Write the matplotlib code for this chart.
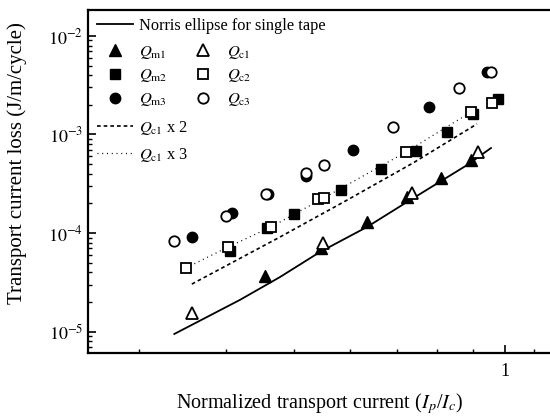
import matplotlib
matplotlib.use('Agg')
import matplotlib.pyplot as plt
from matplotlib.ticker import FixedLocator, NullFormatter, FixedFormatter

plt.rcParams['font.family'] = ['Liberation Serif', 'DejaVu Serif']
plt.rcParams['mathtext.fontset'] = 'stix'

# ---- data ----
x_qm1 = [0.454, 0.546, 0.635, 0.724, 0.810, 0.894]
y_qm1 = [3.66e-5, 7.05e-5, 1.29e-4, 2.30e-4, 3.62e-4, 5.45e-4]
x_qc1 = [0.357, 0.550, 0.736, 0.915]
y_qc1 = [1.54e-5, 7.91e-5, 2.55e-4, 6.70e-4]

x_qm2 = [0.405, 0.457, 0.500, 0.583, 0.665, 0.746, 0.826, 0.900, 0.977]
y_qm2 = [6.6e-5, 1.12e-4, 1.56e-4, 2.73e-4, 4.46e-4, 6.80e-4, 1.06e-3, 1.61e-3, 2.29e-3]
x_qc2 = [0.350, 0.402, 0.463, 0.541, 0.551, 0.722, 0.894, 0.958]
y_qc2 = [4.41e-5, 7.2e-5, 1.15e-4, 2.21e-4, 2.27e-4, 6.64e-4, 1.69e-3, 2.09e-3]

x_qm3 = [0.357, 0.407, 0.459, 0.520, 0.607, 0.778, 0.943]
y_qm3 = [9.1e-5, 1.60e-4, 2.49e-4, 3.79e-4, 6.96e-4, 1.90e-3, 4.31e-3]
x_qc3 = [0.337, 0.400, 0.456, 0.520, 0.551, 0.692, 0.860, 0.955]
y_qc3 = [8.29e-5, 1.49e-4, 2.49e-4, 4.06e-4, 4.90e-4, 1.19e-3, 2.96e-3, 4.31e-3]

x_norris = [0.337, 0.418, 0.477, 0.544, 0.635, 0.732, 0.883, 0.955]
y_norris = [9.44e-6, 2.09e-5, 3.57e-5, 6.41e-5, 1.15e-4, 2.16e-4, 4.90e-4, 7.29e-4]

x_x2 = [0.357, 0.477, 0.595, 0.739, 0.912]
y_x2 = [3.03e-5, 9.1e-5, 2.16e-4, 5.14e-4, 1.28e-3]

x_x3 = [0.350, 0.402, 0.463, 0.551, 0.722, 0.894]
y_x3 = [4.41e-5, 7.2e-5, 1.15e-4, 2.27e-4, 6.64e-4, 1.69e-3]

x_major = [1.0]
x_minor = [0.3, 0.4, 0.5, 0.6, 0.7, 0.8, 0.9, 1.1]
y_major = [1e-5, 1e-4, 1e-3, 1e-2]
y_labels = [r'$10^{-5}$', r'$10^{-4}$', r'$10^{-3}$', r'$10^{-2}$']

labels = {
    'norris': 'Norris ellipse for single tape',
    'qm1': r'$Q_{\mathrm{m1}}$', 'qc1': r'$Q_{\mathrm{c1}}$',
    'qm2': r'$Q_{\mathrm{m2}}$', 'qc2': r'$Q_{\mathrm{c2}}$',
    'qm3': r'$Q_{\mathrm{m3}}$', 'qc3': r'$Q_{\mathrm{c3}}$',
    'x2': r'$Q_{\mathrm{c1}}$ x 2', 'x3': r'$Q_{\mathrm{c1}}$ x 3',
}

fig = plt.figure(figsize=(5.5, 4.18), dpi=100)
ax = fig.add_axes([88/550, 65/418, 462/550, 343/418])
ax.set_xscale('log')
ax.set_yscale('log')
ax.set_xlim(0.2537, 1.1595)
ax.set_ylim(6.05e-6, 1.836e-2)

k = 'black'
ln_n, = ax.plot(x_norris, y_norris, '-', color=k, lw=1.3)
ln_2, = ax.plot(x_x2, y_x2, color=k, lw=1.2, dashes=(2.2, 1.8))
ln_3, = ax.plot(x_x3, y_x3, color=k, lw=0.9, dashes=(0.8, 3.0))

mk = dict(linestyle='none', color=k, mec=k)
h_m1, = ax.plot(x_qm1, y_qm1, marker='^', ms=8, **mk)
h_m2, = ax.plot(x_qm2, y_qm2, marker='s', ms=6.5, **mk)
h_m3, = ax.plot(x_qm3, y_qm3, marker='o', ms=7.5, **mk)
op = dict(linestyle='none', mfc='white', mec=k, mew=1.3)
h_c1, = ax.plot(x_qc1, y_qc1, marker='^', ms=8, **op)
h_c2, = ax.plot(x_qc2, y_qc2, marker='s', ms=6.5, **op)
h_c3, = ax.plot(x_qc3, y_qc3, marker='o', ms=7.5, **op)

# ticks
ax.xaxis.set_major_locator(FixedLocator(x_major))
ax.xaxis.set_major_formatter(FixedFormatter(['1']))
ax.xaxis.set_minor_locator(FixedLocator(x_minor))
ax.xaxis.set_minor_formatter(NullFormatter())
ax.yaxis.set_major_locator(FixedLocator(y_major))
ax.yaxis.set_major_formatter(FixedFormatter(y_labels))
ax.tick_params(axis='both', which='major', direction='in', length=6, width=1.2,
               labelsize=13, top=False, right=False)
ax.tick_params(axis='both', which='minor', direction='in', length=3, width=1.0,
               top=False, right=False)
ax.tick_params(axis='x', which='major', pad=7)
for s in ['left', 'bottom', 'top']:
    ax.spines[s].set_linewidth(1.6)
ax.spines['right'].set_visible(False)

ax.set_xlabel(r'Normalized transport current ($I_p$/$I_c$)', fontsize=14.5)
ax.set_ylabel('Transport current loss (J/m/cycle)', fontsize=15)
ax.xaxis.set_label_coords(0.502, -0.112)
ax.yaxis.set_label_coords(-0.132, 0.554)

common = dict(frameon=False, fontsize=11.8, borderpad=0, borderaxespad=0,
              handlelength=2.2, handletextpad=0.37)
legA = ax.legend([ln_n], [labels['norris']], loc='upper left',
                 bbox_to_anchor=(0.02, 0.978), **common)
ax.add_artist(legA)
legB = ax.legend([h_m1, h_m2, h_m3, h_c1, h_c2, h_c3],
                 [labels['qm1'], labels['qm2'], labels['qm3'],
                  labels['qc1'], labels['qc2'], labels['qc3']],
                 ncol=2, loc='upper left', bbox_to_anchor=(0.02, 0.902),
                 columnspacing=1.05, labelspacing=0.42, **common)
ax.add_artist(legB)
legC = ax.legend([ln_2, ln_3], [labels['x2'], labels['x3']], loc='upper left',
                 bbox_to_anchor=(0.02, 0.683), labelspacing=0.55, **common)

fig.savefig('out.png', dpi=100)
